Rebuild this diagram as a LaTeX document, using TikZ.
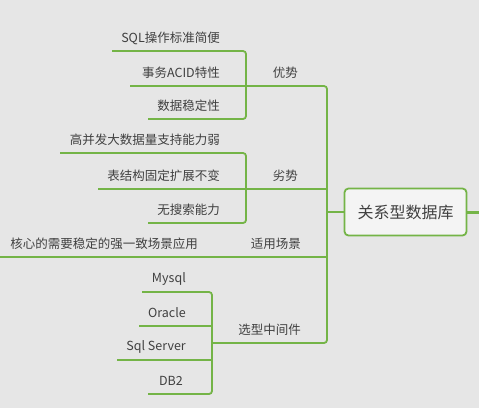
\documentclass[tikz,border=0pt]{standalone}
\usepackage{fontspec}
\setmainfont{Noto Sans CJK SC}
\definecolor{bgc}{HTML}{E6E6E6}
\definecolor{lnc}{HTML}{74B447}
\definecolor{txc}{HTML}{404040}
\definecolor{rootfill}{HTML}{F4F4F4}
\begin{document}
\begin{tikzpicture}[x=1pt,y=-1pt,
  conn/.style={draw=lnc,line width=1.8pt,rounded corners=3pt},
  leaf/.style={text=txc,font=\fontsize{12.5}{14}\selectfont,inner sep=0pt,anchor=east},
  lbl/.style={text=txc,font=\fontsize{12.5}{14}\selectfont,inner sep=0pt,anchor=east},
  rootbox/.style={draw=lnc,line width=1.8pt,fill=rootfill,rounded corners=4pt,
    minimum width=122pt,minimum height=47pt,text=txc,font=\fontsize{16}{18}\selectfont}]
\fill[bgc] (0,0) rectangle (479,408);
\useasboundingbox (0,0) rectangle (479,408);

% root
\node[rootbox] (root) at (405.5,212) {关系型数据库};
\coordinate (rootout) at (479,212);
\draw[lnc,line width=3pt] (root.east) -- (rootout);

% trunk coordinates
\coordinate (tTop) at (327,86);
\coordinate (tBot) at (327,343);
\coordinate (tRoot) at (327,212);

% branch labels
\node[lbl] (adv) at (298,73) {优势};
\node[lbl] (dis) at (298,176) {劣势};
\node[lbl] (use) at (301,244) {适用场景};
\node[lbl] (sel) at (301,330) {选型中间件};

% advantages children
\node[leaf] (a1) at (220,38) {SQL操作标准简便};
\node[leaf] (a2) at (220,73) {事务ACID特性};
\node[leaf] (a3) at (220,106) {数据稳定性};
\coordinate (a1l) at (112,51);
\coordinate (a2l) at (130,86);
\coordinate (a3l) at (148,119);
\coordinate (aB1) at (246,51);
\coordinate (aB3) at (246,119);

% disadvantages children
\node[leaf] (d1) at (220,140) {高并发大数据量支持能力弱};
\node[leaf] (d2) at (220,176) {表结构固定扩展不变};
\node[leaf] (d3) at (220,210) {无搜索能力};
\coordinate (d1l) at (60,153);
\coordinate (d2l) at (98,189);
\coordinate (d3l) at (148,223);
\coordinate (dB1) at (246,153);
\coordinate (dB3) at (246,223);
\coordinate (dJ) at (327,189);

% use case child
\node[leaf] (u1) at (198,244) {核心的需要稳定的强一致场景应用};
\coordinate (u1l) at (0,257);
\coordinate (uJ) at (327,257);

% middleware children
\node[leaf] (m1) at (186,279) {Mysql};
\node[leaf] (m2) at (186,313) {Oracle};
\node[leaf] (m3) at (186,347) {Sql Server};
\node[leaf] (m4) at (183,381) {DB2};
\coordinate (m1l) at (142,292);
\coordinate (m2l) at (139,326);
\coordinate (m3l) at (117,360);
\coordinate (m4l) at (148,394);
\coordinate (mB1) at (212,292);
\coordinate (mB4) at (212,394);
\coordinate (mB2) at (212,326);
\coordinate (mB3) at (212,360);
\coordinate (mJ) at (212,343);

% connectors
\path[conn] (a1l) -- (aB1) -- (aB3) -- (a3l);
\path[conn] (a2l) -- (tTop) -- (tBot) -- (mJ);
\path[conn] (d1l) -- (dB1) -- (dB3) -- (d3l);
\path[conn] (d2l) -- (dJ);
\path[conn] (u1l) -- (uJ);
\path[conn] (tRoot) -- (root.west);
\path[conn] (m1l) -- (mB1) -- (mB4) -- (m4l);
\path[conn] (m2l) -- (mB2);
\path[conn] (m3l) -- (mB3);
\end{tikzpicture}
\end{document}
